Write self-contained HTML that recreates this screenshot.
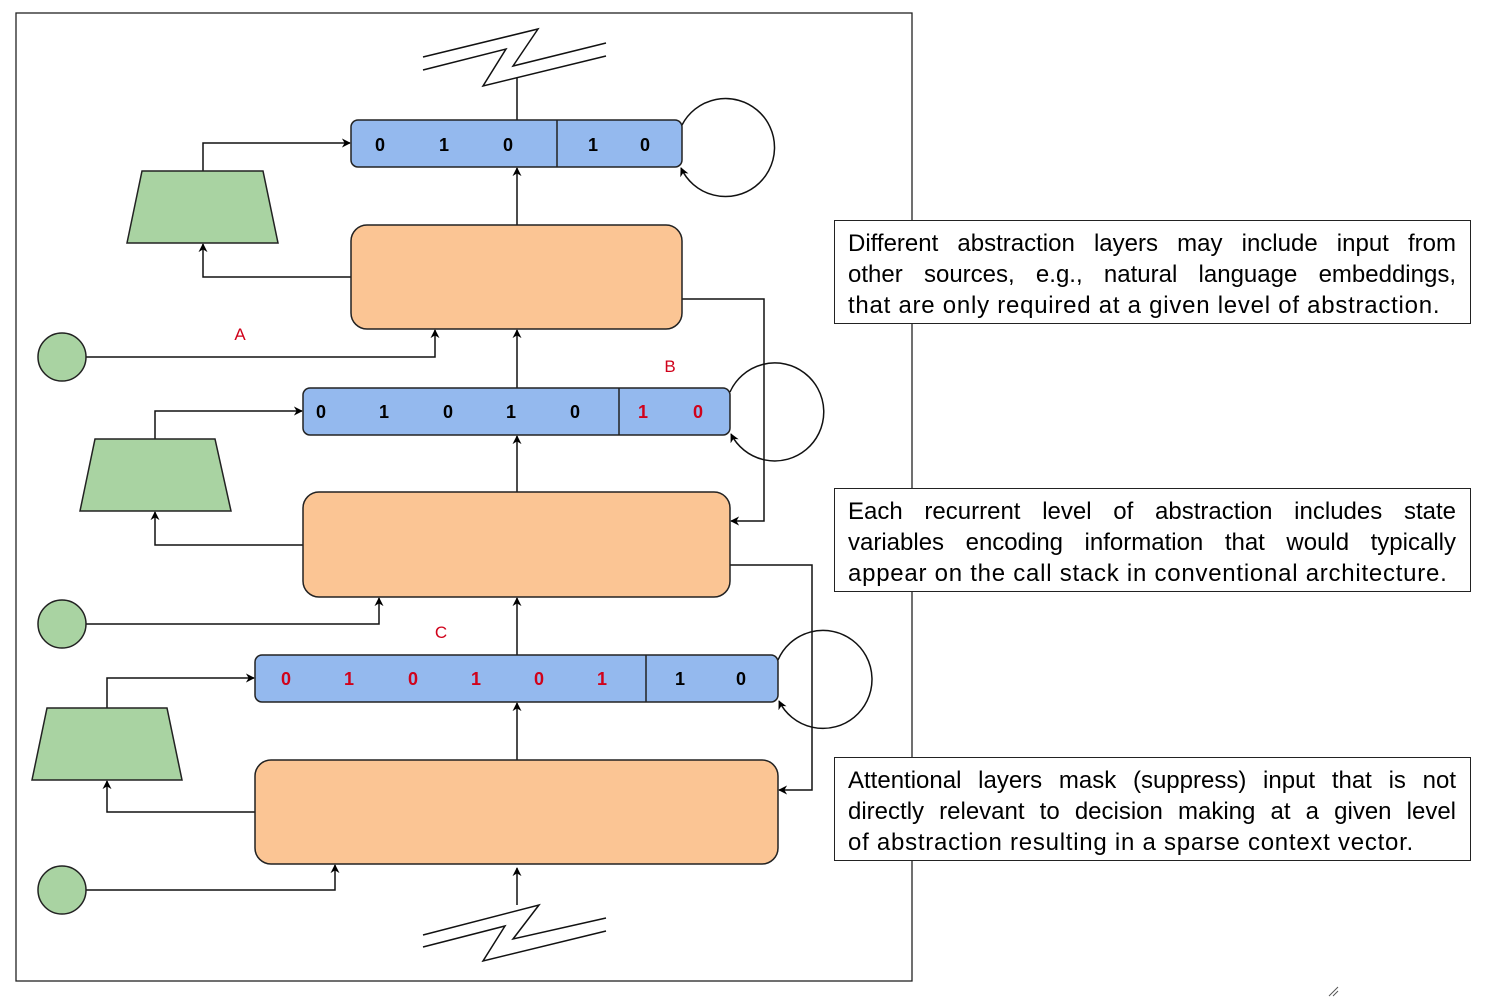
<!DOCTYPE html>
<html><head><meta charset="utf-8"><style>
body{margin:0;background:#fff;width:1489px;height:997px;position:relative;overflow:hidden;font-family:"Liberation Sans",sans-serif}
svg{position:absolute;left:0;top:0}
.tb{position:absolute;left:834px;width:637px;height:104px;box-sizing:border-box;border:1.3px solid #222;background:#fff;padding:7px 14px 0 13px;font-size:24px;line-height:31px;color:#000}
.tb div{text-align:justify;text-align-last:justify;white-space:nowrap}
.tb div.l{text-align-last:left;letter-spacing:0.75px}
</style></head><body>
<svg width="1489" height="997" viewBox="0 0 1489 997" font-family="Liberation Sans, sans-serif">
<defs><marker id="a" viewBox="0 0 10 10" refX="9" refY="5" markerWidth="9" markerHeight="9" orient="auto-start-reverse" markerUnits="userSpaceOnUse"><path d="M0,0 L10,5 L0,10 L3,5 z" fill="#000"/></marker></defs>
<rect x="16" y="13" width="896" height="968" fill="none" stroke="#222" stroke-width="1.3"/>
<g fill="none" stroke="#111" stroke-width="1.5">
<polyline points="423,57 538,29 513,66 606,43"/>
<polyline points="423,70 506,49 483,86 606,56"/>
<line x1="517" y1="78" x2="517" y2="120"/>
<polyline points="423,935 539,905 513,939 606,918"/>
<polyline points="423,947 505,926 483,961 606,931"/>
<line x1="517" y1="905" x2="517" y2="868" marker-end="url(#a)"/>
<line x1="517" y1="225" x2="517" y2="168" marker-end="url(#a)"/>
<line x1="517" y1="388" x2="517" y2="330" marker-end="url(#a)"/>
<line x1="517" y1="492" x2="517" y2="436" marker-end="url(#a)"/>
<line x1="517" y1="655" x2="517" y2="598" marker-end="url(#a)"/>
<line x1="517" y1="760" x2="517" y2="703" marker-end="url(#a)"/>
<polyline points="203,171 203,143 350,143" marker-end="url(#a)"/>
<polyline points="155,439 155,411 302,411" marker-end="url(#a)"/>
<polyline points="107,708 107,678 254,678" marker-end="url(#a)"/>
<polyline points="351,277 203,277 203,244" marker-end="url(#a)"/>
<polyline points="303,545 155,545 155,512" marker-end="url(#a)"/>
<polyline points="255,812 107,812 107,781" marker-end="url(#a)"/>
<polyline points="86,357 435,357 435,330" marker-end="url(#a)"/>
<polyline points="86,624 379,624 379,598" marker-end="url(#a)"/>
<polyline points="86,890 335,890 335,865" marker-end="url(#a)"/>
<polyline points="682,299 764,299 764,521 731,521" marker-end="url(#a)"/>
<polyline points="730,565 812,565 812,790 779,790" marker-end="url(#a)"/>
<path d="M682,125 A49,49 0 1 1 681,168" marker-end="url(#a)"/>
<path d="M730,392 A49,49 0 1 1 731,434" marker-end="url(#a)"/>
<path d="M778,660 A49,49 0 1 1 779,701" marker-end="url(#a)"/>
</g>
<g stroke="#222" stroke-width="1.5">
<rect x="351" y="120" width="331" height="47" rx="7" fill="#94b9ee"/>
<line x1="557" y1="120" x2="557" y2="167"/>
<rect x="303" y="388" width="427" height="47" rx="7" fill="#94b9ee"/>
<line x1="619" y1="388" x2="619" y2="435"/>
<rect x="255" y="655" width="523" height="47" rx="7" fill="#94b9ee"/>
<line x1="646" y1="655" x2="646" y2="702"/>
<rect x="351" y="225" width="331" height="104" rx="16" fill="#fbc594"/>
<rect x="303" y="492" width="427" height="105" rx="16" fill="#fbc594"/>
<rect x="255" y="760" width="523" height="104" rx="16" fill="#fbc594"/>
<polygon points="142,171 263,171 278,243 127,243" fill="#a9d3a2"/>
<polygon points="95,439 215,439 231,511 80,511" fill="#a9d3a2"/>
<polygon points="47,708 167,708 182,780 32,780" fill="#a9d3a2"/>
<circle cx="62" cy="357" r="24" fill="#a9d3a2"/>
<circle cx="62" cy="624" r="24" fill="#a9d3a2"/>
<circle cx="62" cy="890" r="24" fill="#a9d3a2"/>
</g>
<g font-size="18" font-weight="bold" text-anchor="middle">
<text x="380" y="151">0</text><text x="444" y="151">1</text><text x="508" y="151">0</text><text x="593" y="151">1</text><text x="645" y="151">0</text>
<text x="321" y="418">0</text><text x="384" y="418">1</text><text x="448" y="418">0</text><text x="511" y="418">1</text><text x="575" y="418">0</text><text x="643" y="418" fill="#d0021b">1</text><text x="698" y="418" fill="#d0021b">0</text>
<g fill="#d0021b"><text x="286" y="685">0</text><text x="349" y="685">1</text><text x="413" y="685">0</text><text x="476" y="685">1</text><text x="539" y="685">0</text><text x="602" y="685">1</text></g>
<text x="680" y="685">1</text><text x="741" y="685">0</text>
</g>
<g font-size="17" fill="#d0021b" text-anchor="middle">
<text x="240" y="340">A</text><text x="670" y="372">B</text><text x="441" y="638">C</text>
</g>
<g stroke="#555" stroke-width="1"><line x1="1329" y1="996" x2="1338" y2="987"/><line x1="1333" y1="996" x2="1338" y2="991"/></g>
</svg>
<div class="tb" style="top:220px"><div>Different abstraction layers may include input from</div><div>other sources, e.g., natural language embeddings,</div><div class="l">that are only required at a given level of abstraction.</div></div>
<div class="tb" style="top:488px"><div>Each recurrent level of abstraction includes state</div><div>variables encoding information that would typically</div><div class="l">appear on the call stack in conventional architecture.</div></div>
<div class="tb" style="top:757px"><div>Attentional layers mask (suppress) input that is not</div><div>directly relevant to decision making at a given level</div><div class="l">of abstraction resulting in a sparse context vector.</div></div>
</body></html>
